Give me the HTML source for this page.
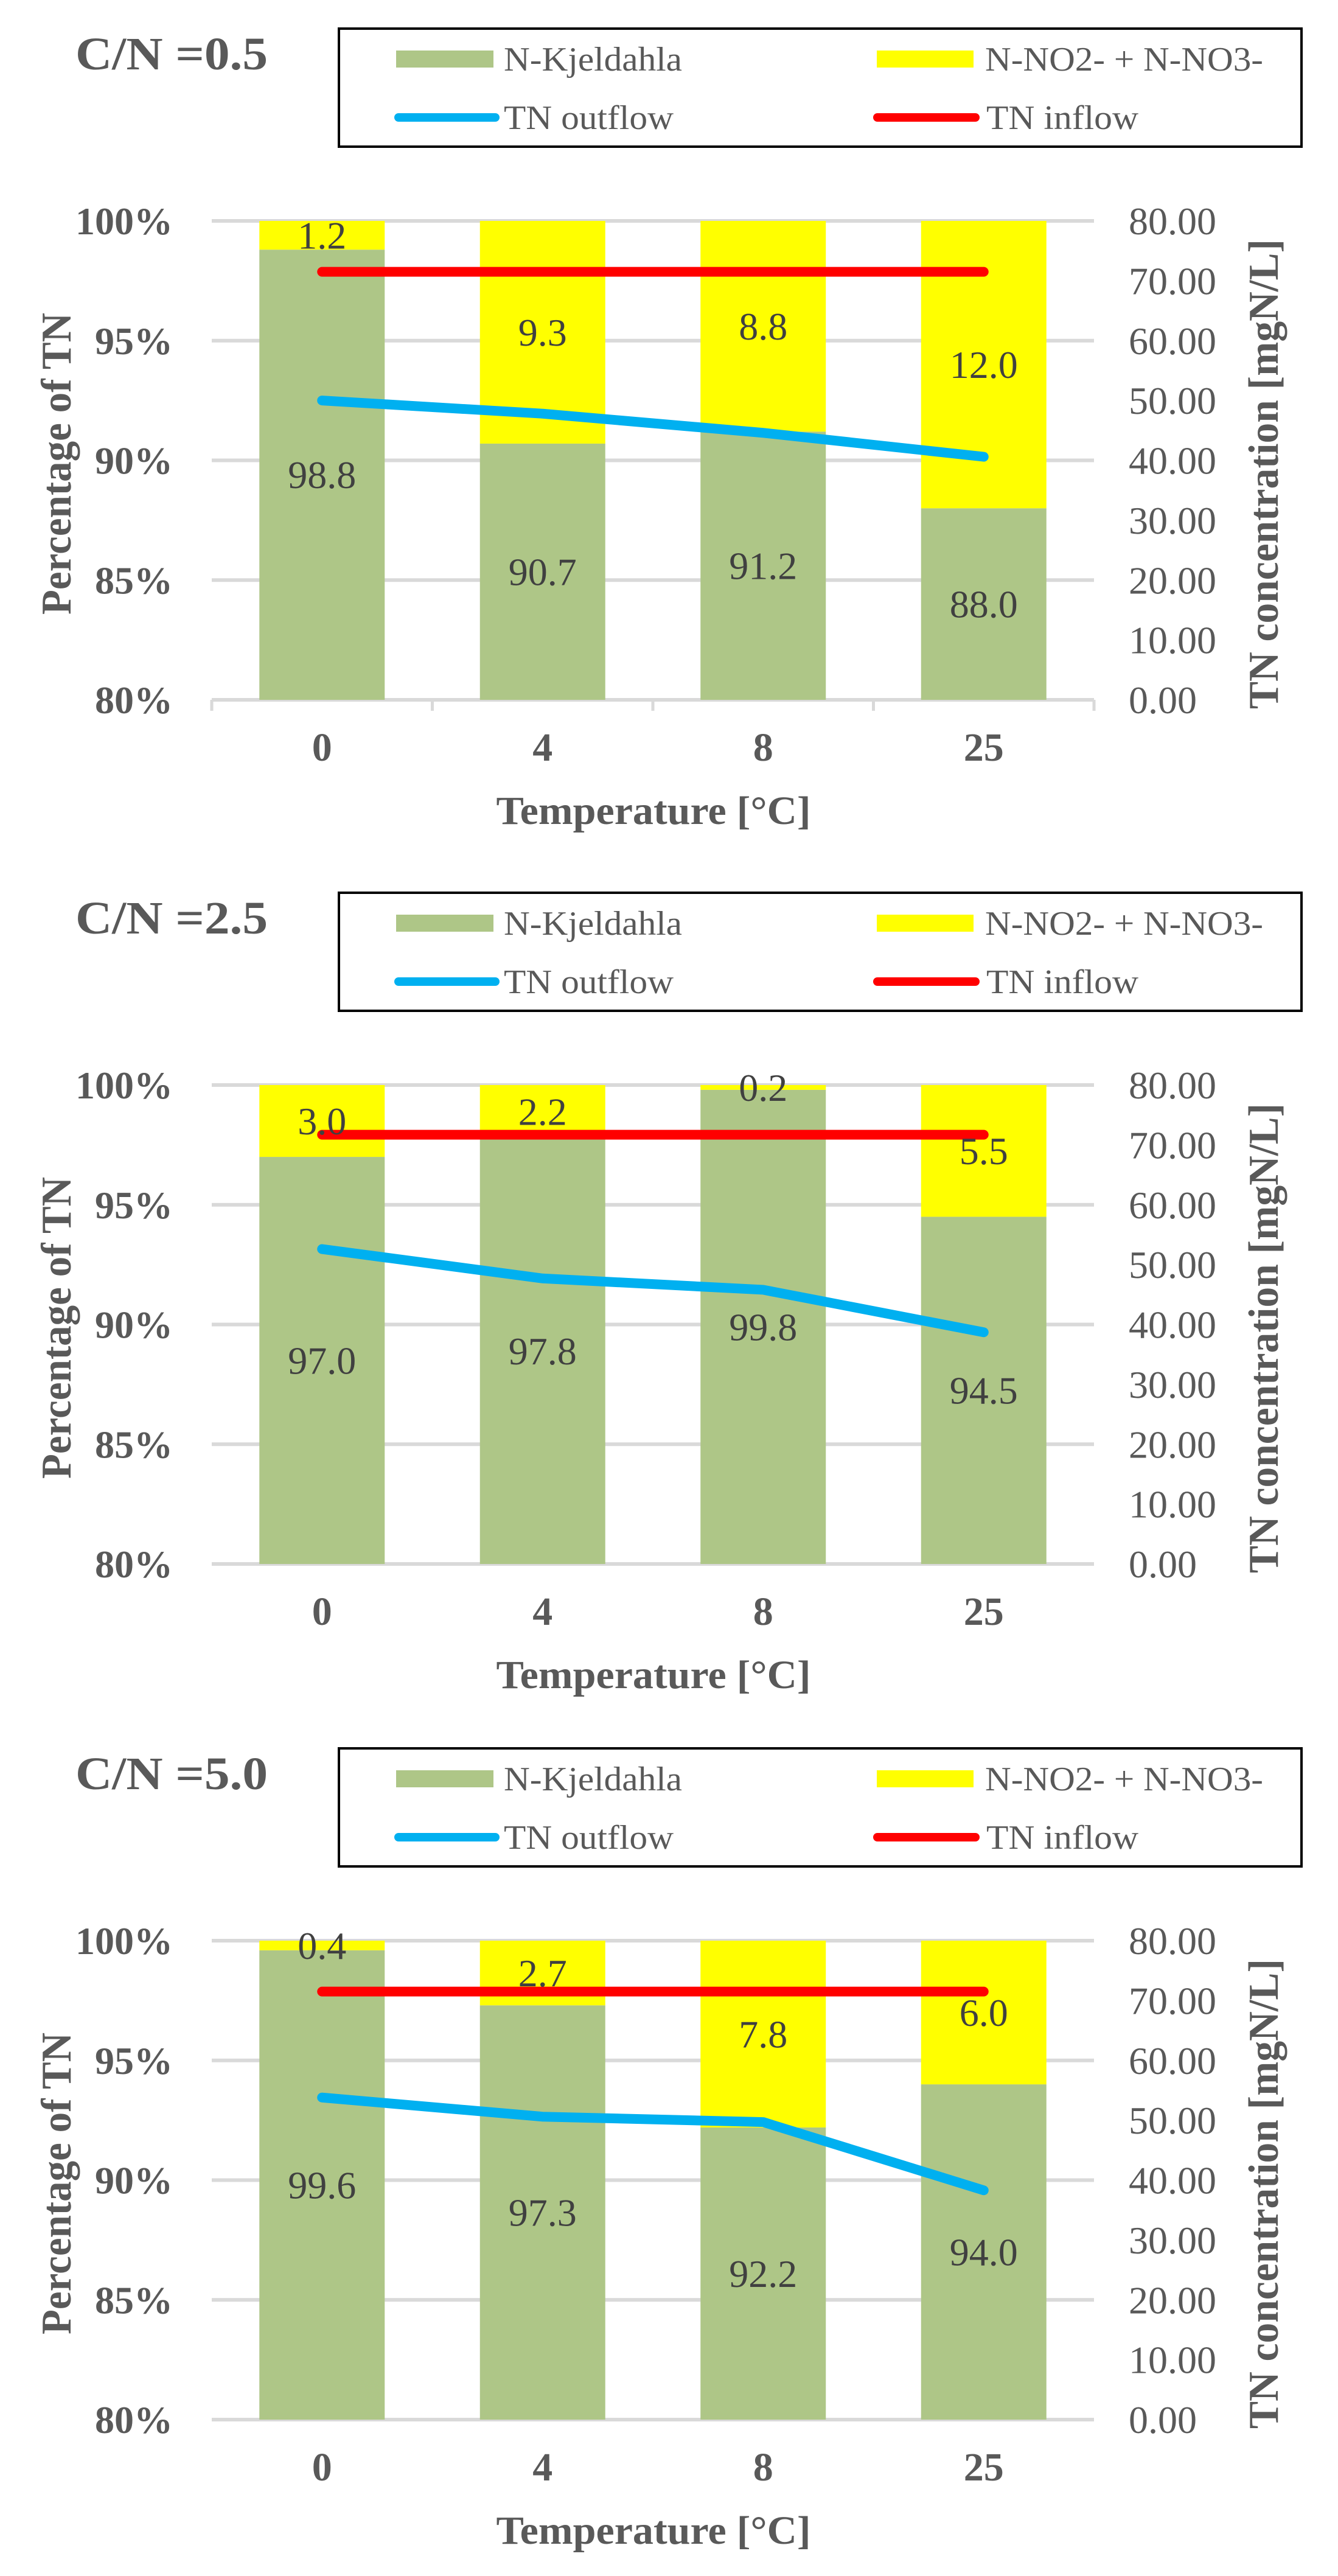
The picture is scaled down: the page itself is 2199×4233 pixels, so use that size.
<!DOCTYPE html>
<html><head><meta charset="utf-8">
<style>
html,body{margin:0;padding:0;background:#fff;}
svg{display:block;}
text{font-family:"Liberation Serif",serif;}
</style></head>
<body>
<svg id="fig" width="2199" height="4233" viewBox="0 0 2199 4233" xmlns="http://www.w3.org/2000/svg"></svg>
<script>
const panelTitles = ["C/N =0.5", "C/N =2.5", "C/N =5.0"];
const categories = ["0", "4", "8", "25"];
const kjeldahl1 = [98.8, 90.7, 91.2, 88.0];
const nox1 = [1.2, 9.3, 8.8, 12.0];
const outflow1 = [50.0, 47.8, 44.6, 40.6];
const inflow1 = [71.5, 71.5, 71.5, 71.5];
const kjeldahl2 = [97.0, 97.8, 99.8, 94.5];
const nox2 = [3.0, 2.2, 0.2, 5.5];
const outflow2 = [52.6, 47.7, 45.8, 38.7];
const inflow2 = [71.7, 71.7, 71.7, 71.7];
const kjeldahl3 = [99.6, 97.3, 92.2, 94.0];
const nox3 = [0.4, 2.7, 7.8, 6.0];
const outflow3 = [53.8, 50.6, 49.7, 38.3];
const inflow3 = [71.5, 71.5, 71.5, 71.5];
const leftTicks = [80, 85, 90, 95, 100];
const leftTickLabels = ["80%", "85%", "90%", "95%", "100%"];
const rightTicks = [0, 10, 20, 30, 40, 50, 60, 70, 80];
const rightTickLabels = ["0.00", "10.00", "20.00", "30.00", "40.00", "50.00", "60.00", "70.00", "80.00"];

const kjSeries = [kjeldahl1, kjeldahl2, kjeldahl3];
const noxSeries = [nox1, nox2, nox3];
const outSeries = [outflow1, outflow2, outflow3];
const inSeries = [inflow1, inflow2, inflow3];
const offsets = [0, 1420, 2826];

const NS = "http://www.w3.org/2000/svg";
const svg = document.getElementById("fig");
function mk(tag, attrs, parent, txt) {
  const e = document.createElementNS(NS, tag);
  for (const k in attrs) e.setAttribute(k, attrs[k]);
  if (txt !== undefined) e.textContent = txt;
  (parent || svg).appendChild(e);
  return e;
}
const X0 = 348, X1 = 1798, BW = 206;
const GRAY = "#595959";

offsets.forEach((off, p) => {
  const g = mk("g", {});
  
  
  const yTop = 363 + off, yBot = 1150 + off;
  const yL = v => yBot - (v - 80) / 20 * (yBot - yTop);
  const yR = v => yBot - v / 80 * (yBot - yTop);
  const step = (X1 - X0) / categories.length;
  const xC = i => X0 + step * (i + 0.5);

  const t = mk("text", {x: 124, y: 114 + off, "font-size": 76, "font-weight": "bold", fill: GRAY, textLength: 316, lengthAdjust: "spacingAndGlyphs"}, g, panelTitles[p]);
  
  

  const lg = mk("g", {}, g);
  
  
  mk("rect", {x: 557, y: 47 + off, width: 1582, height: 194, fill: "#fff", stroke: "#000", "stroke-width": 4}, lg);
  const r1 = 97 + off, r2 = 193 + off;
  const items = [
    {type: "rect", c: "#aec687", x: 651, x2: 811, tx: 828, y: r1, label: "N-Kjeldahla", tl: 293, n: "legend-entry-kjeldahl"},
    {type: "rect", c: "#ffff00", x: 1441, x2: 1600, tx: 1619, y: r1, label: "N-NO2- + N-NO3-", tl: 457, n: "legend-entry-nox"},
    {type: "line", c: "#00b0f0", x: 655, x2: 814, tx: 828, y: r2, label: "TN outflow", tl: 279, n: "legend-entry-tn-outflow"},
    {type: "line", c: "#ff0000", x: 1442, x2: 1603, tx: 1621, y: r2, label: "TN inflow", tl: 250, n: "legend-entry-tn-inflow"}
  ];
  items.forEach(it => {
    const ig = mk("g", {}, lg);
    
    
    if (it.type === "rect") mk("rect", {x: it.x, y: it.y - 14, width: it.x2 - it.x, height: 28, fill: it.c}, ig);
    else mk("line", {x1: it.x, y1: it.y, x2: it.x2, y2: it.y, stroke: it.c, "stroke-width": 14, "stroke-linecap": "round"}, ig);
    mk("text", {x: it.tx, y: it.y + 19, "font-size": 56, fill: GRAY, textLength: it.tl, lengthAdjust: "spacingAndGlyphs"}, ig, it.label);
  });

  leftTicks.forEach((v, i) => {
    const gl = mk("line", {x1: X0, x2: X1, y1: yL(v), y2: yL(v), stroke: "#d9d9d9", "stroke-width": 6}, g);
    
    
    const lt = mk("text", {x: 284, y: yL(v) + 22, "font-size": 64, "font-weight": "bold", fill: GRAY, "text-anchor": "end"}, g, leftTickLabels[i]);
    
    
  });
  rightTicks.forEach((v, i) => {
    const rt = mk("text", {x: 1855, y: yR(v) + 22, "font-size": 64, fill: GRAY}, g, rightTickLabels[i]);
    
    
  });
  if (p === 0) {
    for (let i = 0; i <= categories.length; i++) {
      mk("line", {x1: X0 + step * i, x2: X0 + step * i, y1: yBot, y2: yBot + 18, stroke: "#d9d9d9", "stroke-width": 5}, g);
    }
  }

  const kj = kjSeries[p], nx = noxSeries[p];
  categories.forEach((c, i) => {
    const bx = xC(i) - BW / 2;
    const gb = mk("rect", {x: bx, y: yL(kj[i]), width: BW, height: yBot - yL(kj[i]), fill: "#aec687"}, g);
    
    
    const topV = Math.min(100, kj[i] + nx[i]);
    const yb = mk("rect", {x: bx, y: yL(topV), width: BW, height: yL(kj[i]) - yL(topV), fill: "#ffff00"}, g);
    
    
  });

  const lineOf = (arr, col, name) => {
    const pts = arr.map((v, i) => xC(i) + "," + yR(v)).join(" ");
    const pl = mk("polyline", {points: pts, fill: "none", stroke: col, "stroke-width": 16, "stroke-linecap": "round", "stroke-linejoin": "round"}, g);
    
    
  };
  lineOf(inSeries[p], "#ff0000", "tn-inflow-line");
  lineOf(outSeries[p], "#00b0f0", "tn-outflow-line");

  categories.forEach((c, i) => {
    const l1 = mk("text", {x: xC(i), y: (yL(80) + yL(kj[i])) / 2 + 22, "font-size": 64, fill: "#404040", "text-anchor": "middle"}, g, kj[i].toFixed(1));
    
    
    const l2 = mk("text", {x: xC(i), y: (yL(kj[i]) + yL(Math.min(100, kj[i] + nx[i]))) / 2 + 22, "font-size": 64, fill: "#404040", "text-anchor": "middle"}, g, nx[i].toFixed(1));
    
    
    const xl = mk("text", {x: xC(i), y: yBot + 100, "font-size": 66, "font-weight": "bold", fill: GRAY, "text-anchor": "middle"}, g, c);
    
    
  });

  const xt = mk("text", {x: 1074, y: yBot + 204, "font-size": 66, "font-weight": "bold", fill: GRAY, "text-anchor": "middle", textLength: 517, lengthAdjust: "spacingAndGlyphs"}, g, "Temperature [°C]");
  
  
  const cyL = 762 + off;
  const ytl = mk("text", {x: 0, y: 0, "font-size": 70, "font-weight": "bold", fill: GRAY, "text-anchor": "middle", textLength: 496, lengthAdjust: "spacingAndGlyphs", transform: "translate(116," + cyL + ") rotate(-90)"}, g, "Percentage of TN");
  
  
  const cyR = 779 + off;
  const ytr = mk("text", {x: 0, y: 0, "font-size": 70, "font-weight": "bold", fill: GRAY, "text-anchor": "middle", textLength: 772, lengthAdjust: "spacingAndGlyphs", transform: "translate(2100," + cyR + ") rotate(-90)"}, g, "TN concentration [mgN/L]");
  
  
});
</script>
</body></html>
